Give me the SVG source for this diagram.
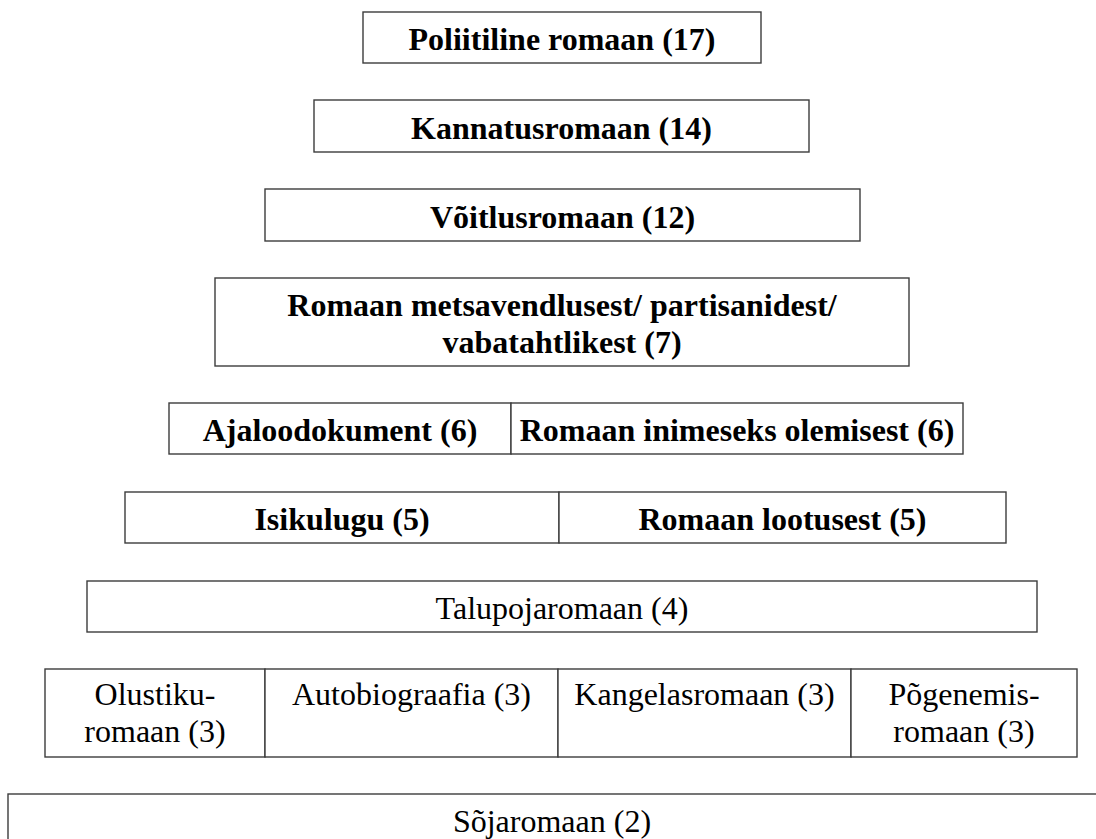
<svg xmlns="http://www.w3.org/2000/svg" width="1096" height="839" viewBox="0 0 1096 839">
<style>
rect.b{fill:#fff;stroke:#3c3c3c;stroke-width:1.4}
text{font-family:"Liberation Serif","Times New Roman",serif;font-size:32px;fill:#000;text-anchor:middle}
text.bd{font-weight:bold}
</style>
<rect width="1096" height="839" fill="#fff"/>
<g id="connectors"/>
<g id="n1"><rect class="b" x="363" y="12" width="398" height="51"/><text class="bd" x="562" y="50">Poliitiline romaan (17)</text></g>
<g id="n2"><rect class="b" x="314" y="100" width="495" height="52"/><text class="bd" x="561.5" y="139">Kannatusromaan (14)</text></g>
<g id="n3"><rect class="b" x="265" y="189" width="595" height="52"/><text class="bd" x="562.5" y="228">Võitlusromaan (12)</text></g>
<g id="n4"><rect class="b" x="215" y="278" width="694" height="88"/><text class="bd" x="562" y="316">Romaan metsavendlusest/ partisanidest/</text><text class="bd" x="562" y="353">vabatahtlikest (7)</text></g>
<g id="n5a"><rect class="b" x="169" y="403" width="342" height="51"/><text class="bd" x="340" y="441">Ajaloodokument (6)</text></g>
<g id="n5b"><rect class="b" x="511" y="403" width="452" height="51"/><text class="bd" x="737" y="441">Romaan inimeseks olemisest (6)</text></g>
<g id="n6a"><rect class="b" x="125" y="492" width="434" height="51"/><text class="bd" x="342" y="530">Isikulugu (5)</text></g>
<g id="n6b"><rect class="b" x="559" y="492" width="447" height="51"/><text class="bd" x="782.5" y="530">Romaan lootusest (5)</text></g>
<g id="n7"><rect class="b" x="87" y="581" width="950" height="51"/><text x="562" y="619">Talupojaromaan (4)</text></g>
<g id="n8a"><rect class="b" x="45" y="669" width="220" height="88"/><text x="155" y="705">Olustiku-</text><text x="155" y="742">romaan (3)</text></g>
<g id="n8b"><rect class="b" x="265" y="669" width="293" height="88"/><text x="411.5" y="705">Autobiograafia (3)</text></g>
<g id="n8c"><rect class="b" x="558" y="669" width="293" height="88"/><text x="704.5" y="705">Kangelasromaan (3)</text></g>
<g id="n8d"><rect class="b" x="851" y="669" width="226" height="88"/><text x="964" y="705">Põgenemis-</text><text x="964" y="742">romaan (3)</text></g>
<g id="n9"><rect class="b" x="8" y="794" width="1100" height="60"/><text x="552" y="832">Sõjaromaan (2)</text></g>
</svg>
